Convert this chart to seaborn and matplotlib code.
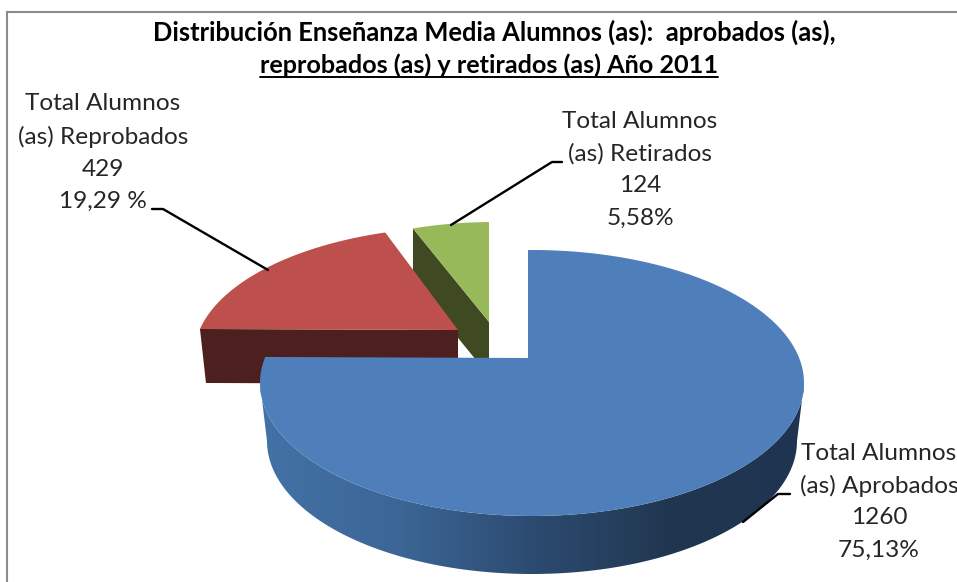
import numpy as np
import matplotlib
matplotlib.use('Agg')
import matplotlib.pyplot as plt
from matplotlib.patches import Polygon
import seaborn as sns

# data
categories = ['Total Alumnos\n(as) Aprobados', 'Total Alumnos\n(as) Reprobados', 'Total Alumnos\n(as) Retirados']
counts = [1260, 429, 124]
percents = [75.13, 19.29, 5.58]
percent_labels = ['75,13%', '19,29 %', '5,58%']
title_top = 'Distribución Enseñanza Media Alumnos (as):  aprobados (as),'
title_bottom = 'reprobados (as) y retirados (as) Año 2011'

TOP_COLORS = ['#4f7fbb', '#bd4f4c', '#98b959']
SIDE_COLORS = [None, '#4d1f1f', '#404a22']
BLUE_SIDE = ['#4372a6', '#3c6696', '#2c4b71', '#213750', '#1f3450']
FONT = ['Lato', 'DejaVu Sans']
TEXT_COLOR = '#262626'

W, H = 957, 582

# apex, ellipse centre offset, radii, flattening of the rays, side depth, side lean
SLICES = [
    dict(apex=(528, 358), off=(4, 25), rx=272, ry=133, k=0.49, depth=58, lean=0),
    dict(apex=(458, 330), off=(5, 26), rx=269, ry=129, k=0.49, depth=54, lean=6),
    dict(apex=(489, 322), off=(5, 25), rx=256, ry=125, k=0.45, depth=54, lean=0),
]

LABEL_POS = [(879, 453), (103, 104), (640, 121)]
LEADERS = [
    [(743, 522), (778, 494), (790, 494)],
    [(152, 209), (163, 209), (268, 270)],
    [(451, 225), (552, 162), (562, 162)],
]


def rim_points(s, start, stop, n=160):
    # cast rays from the apex and stop where they hit the flattened rim
    ax0, ay0 = s['apex']
    cx, cy = ax0 + s['off'][0], ay0 + s['off'][1]
    pts = []
    for th in np.radians(np.linspace(start, stop, n)):
        dx, dy = np.sin(th), -s['k'] * np.cos(th)
        ox, oy = ax0 - cx, ay0 - cy
        a = (dx / s['rx']) ** 2 + (dy / s['ry']) ** 2
        b = 2 * (ox * dx / s['rx'] ** 2 + oy * dy / s['ry'] ** 2)
        c = (ox / s['rx']) ** 2 + (oy / s['ry']) ** 2 - 1
        t = (-b + np.sqrt(b * b - 4 * a * c)) / (2 * a)
        pts.append((ax0 + t * dx, ay0 + t * dy))
    return np.array(pts)


sns.set_theme(style='white')
plt.rcParams['font.family'] = FONT

fig = plt.figure(figsize=(W / 100, H / 100), dpi=100)
ax = fig.add_axes([0, 0, 1, 1])
ax.set_xlim(0, W)
ax.set_ylim(H, 0)
ax.axis('off')

# chart frame, only left and top fall inside the crop
ax.plot([7, 7, W], [H, 12, 12], color='#8c8c8c', lw=1.5, solid_joinstyle='miter')

edges = np.cumsum([0] + percents) / sum(percents) * 360

# back slices first, blue goes on top of them
for i in [2, 1]:
    s = SLICES[i]
    rim = rim_points(s, edges[i], edges[i + 1])
    apex = np.array(s['apex'], dtype=float)
    shift = np.array([s['lean'], s['depth']], dtype=float)
    outer = rim[0]
    ax.add_patch(Polygon([outer, apex, apex + (0, s['depth']), outer + shift],
                         fc=SIDE_COLORS[i], ec='none', zorder=2 + (2 - i) * 2))
    ax.add_patch(Polygon(np.vstack([[apex], rim]), fc=TOP_COLORS[i], ec='none',
                         zorder=3 + (2 - i) * 2))

# blue side wall with the left to right shading
s = SLICES[0]
cx, cy = s['apex'][0] + s['off'][0], s['apex'][1] + s['off'][1]
t = np.linspace(0, np.pi, 200)
upper = np.column_stack([cx - s['rx'] * np.cos(t), cy + s['ry'] * np.sin(t)])
lower = np.column_stack([cx - 265 * np.cos(t), cy + s['depth'] + s['ry'] * np.sin(t)])
wall = Polygon(np.vstack([upper, lower[::-1]]), transform=ax.transData, fc='none', ec='none')
ax.add_patch(wall)
cmap = sns.blend_palette(BLUE_SIDE, as_cmap=True)
grad = ax.imshow(np.linspace(0, 1, 256)[None, :], cmap=cmap, aspect='auto', zorder=7,
                 extent=(cx - s['rx'], cx + s['rx'], cy + s['depth'] + s['ry'], cy))
grad.set_clip_path(wall)
ax.set_xlim(0, W)
ax.set_ylim(H, 0)

rim = rim_points(s, edges[0], edges[1], n=400)
ax.add_patch(Polygon(np.vstack([[s['apex']], rim]), fc=TOP_COLORS[0], ec='none', zorder=8))

# leader lines and data labels
for path in LEADERS:
    xs, ys = zip(*path)
    ax.plot(xs, ys, color='black', lw=1.7, zorder=9)

LINE_STEP = 32.5
for name, n, pct, (x, y) in zip(categories, counts, percent_labels, LABEL_POS):
    lines = name.split('\n') + [str(n), pct]
    for j, line in enumerate(lines):
        ax.text(x, y + j * LINE_STEP, line, ha='center', va='center', fontsize=17.6,
                color=TEXT_COLOR, zorder=10, clip_on=True)

# title, second line underlined
ax.text(494, 32, title_top, ha='center', va='center', fontsize=18.4, fontweight='bold',
        color='black', zorder=10)
sub = ax.text(489, 65, title_bottom, ha='center', va='center', fontsize=18.2, fontweight='bold',
              color='black', zorder=10)
fig.canvas.draw()
box = sub.get_window_extent(fig.canvas.get_renderer())
ax.plot([box.x0, box.x1], [77, 77], color='black', lw=1.4, zorder=10)

fig.savefig('out.png', dpi=100)
